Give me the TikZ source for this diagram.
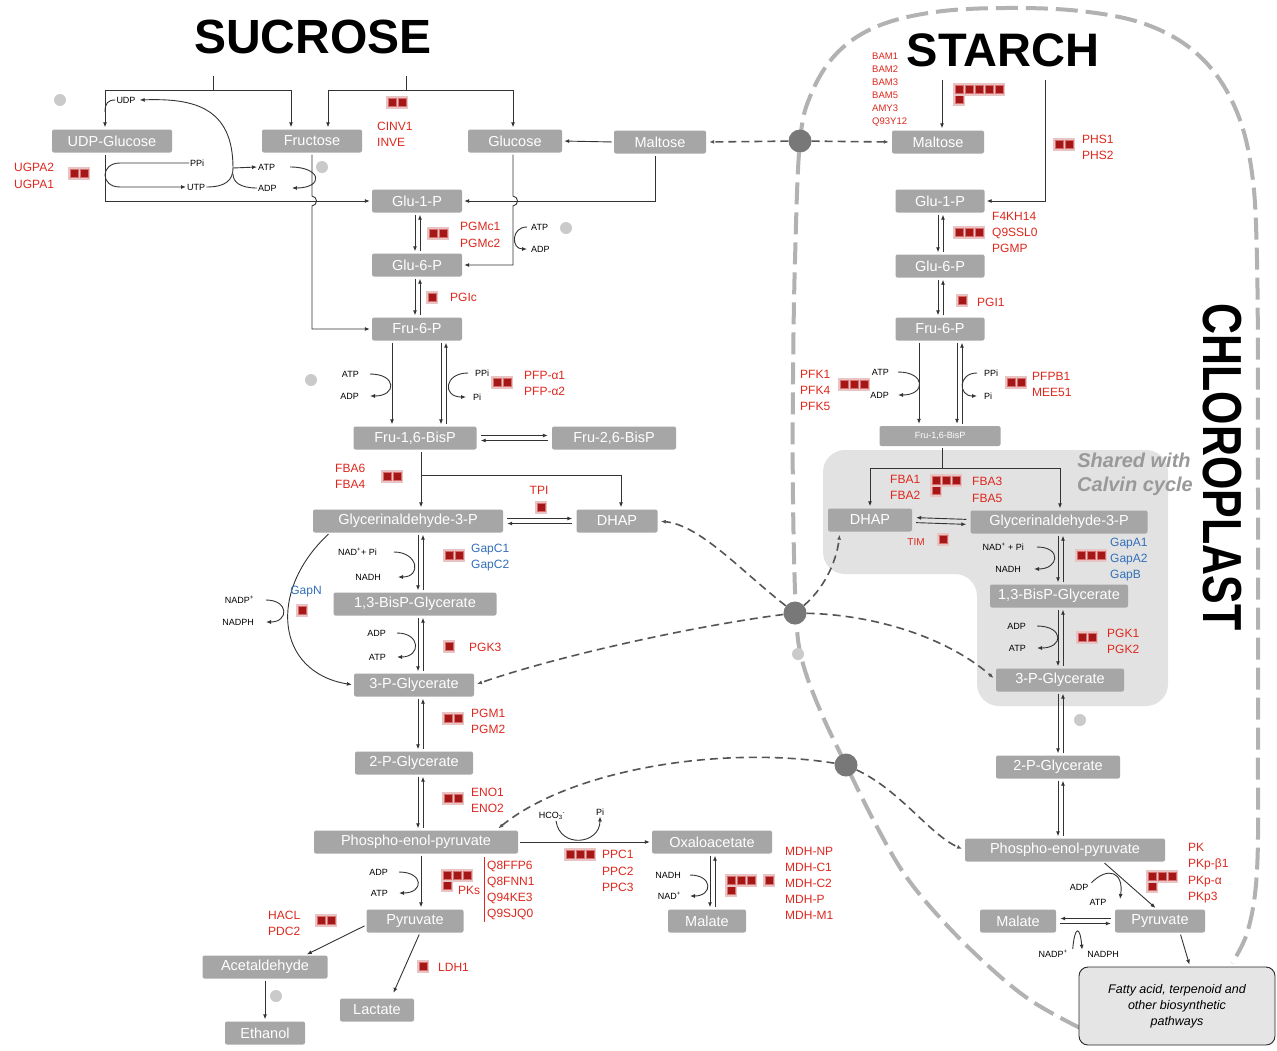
\documentclass[tikz,border=0pt]{standalone}
\usepackage{fontspec}
\setmainfont{Liberation Sans}
\usetikzlibrary{arrows.meta}
\definecolor{boxGray}{RGB}{166,166,166}
\definecolor{enzRed}{RGB}{222,40,30}
\definecolor{enzBlue}{RGB}{50,112,185}
\definecolor{sqRed}{RGB}{165,22,22}
\definecolor{sqEdge}{RGB}{215,110,110}
\definecolor{sqHalo}{RGB}{232,196,196}
\definecolor{memGray}{RGB}{178,178,178}
\definecolor{dashGray}{RGB}{85,85,85}
\definecolor{calvinGray}{RGB}{226,226,226}
\definecolor{dotGray}{RGB}{202,202,202}
\definecolor{portGray}{RGB}{120,120,120}

\newcommand{\enz}[3]{%
  \fill[sqHalo] ({#1-2},{#2-2}) rectangle ({#1+10*#3},{#2+10.5});
  \foreach \k in {1,...,#3}
    \draw[sqEdge,fill=sqRed,line width=0.8pt] ({#1+10*(\k-1)},#2) rectangle +(8.5,8.5);}
\newcommand{\revpair}[4]{%
  \draw[react] (#1.south -| #3) -- (#2.north -| #3);
  \draw[react] (#2.north -| #4) -- (#1.south -| #4);}
\newcommand{\eqR}[2]{%
  \draw[react, shorten <=4pt, shorten >=4pt] ([yshift=2.5pt]#1.east) -- ([yshift=2.5pt]#2.west);
  \draw[react, shorten <=4pt, shorten >=4pt] ([yshift=-2.5pt]#2.west) -- ([yshift=-2.5pt]#1.east);}
\newcommand{\eqL}[2]{%
  \draw[react, shorten <=4pt, shorten >=4pt] ([yshift=2.5pt]#2.west) -- ([yshift=2.5pt]#1.east);
  \draw[react, shorten <=4pt, shorten >=4pt] ([yshift=-2.5pt]#1.east) -- ([yshift=-2.5pt]#2.west);}
\newcommand{\hookR}[4]{\draw[cofarrow] ([xshift=#3pt]#1.east) .. controls +(#4,0) and +(#4,0) .. ([xshift=#3pt]#2.east);}
\newcommand{\hookL}[4]{\draw[cofarrow] ([xshift=-#3pt]#1.west) .. controls +(-#4,0) and +(-#4,0) .. ([xshift=-#3pt]#2.west);}

\begin{document}
\begin{tikzpicture}[x=1pt, y=-1pt,
  >={Latex[length=5pt,width=4pt]},
  box/.style={fill=boxGray, text=white, rounded corners=2pt, minimum height=23pt, inner sep=0pt, font=\fontsize{14.5}{14.5}\selectfont},
  enz/.style={text=enzRed, font=\fontsize{12}{16.3}\selectfont, align=left, anchor=west, inner sep=0pt},
  enzb/.style={enz, text=enzBlue},
  cof/.style={font=\fontsize{9}{9}\selectfont, inner sep=1pt},
  cofL/.style={cof, anchor=east},
  cofR/.style={cof, anchor=west},
  react/.style={->, draw=black!80, line width=0.9pt, shorten >=2pt, shorten <=2pt},
  plainline/.style={draw=black!80, line width=0.9pt},
  cofarrow/.style={->, draw=black!80, line width=0.9pt},
  transit/.style={->, draw=dashGray, line width=1.6pt, dash pattern=on 8pt off 5pt, shorten >=3pt},
  membrane/.style={draw=memGray, line width=4pt, dash pattern=on 22pt off 8pt},
  port/.style={circle, fill=portGray, minimum size=23pt, inner sep=0pt},
  dot/.style={circle, fill=dotGray, minimum size=12pt, inner sep=0pt},
  title/.style={font=\fontsize{48}{48}\selectfont\bfseries, inner sep=0pt},
  calvin/.style={text=black!40, font=\fontsize{20}{20}\selectfont\bfseries\itshape, inner sep=0pt},
  fabox/.style={draw=black!85, fill=black!10, rounded corners=9pt, line width=0.9pt, minimum width=196pt, minimum height=78pt, align=center, font=\fontsize{12.5}{16}\selectfont\itshape}]

\fill[white] (0,0) rectangle (1277,1050);
\useasboundingbox (0,0) rectangle (1277,1050);

\draw[membrane] plot[smooth, tension=0.6] coordinates {(1080,1028) (1030,1000) (985,963) (942,920) (905,875) (876,825) (846,765) (820,710) (802,660) (796,613) (793,500) (793,380) (795,260) (800,141) (812,92) (838,52) (878,26) (935,12) (1005,8) (1080,11) (1145,24) (1195,52) (1230,97) (1250,160) (1257,260) (1258,500) (1258,750) (1257,870) (1248,930) (1232,963)};
\fill[calvinGray, rounded corners=22pt] (823,574) -- (823,450) -- (1168,450) -- (1168,706) -- (977,706) -- (977,574) -- cycle;

\node[title] (tSucrose) at (313,37) {SUCROSE};
\node[title, font=\fontsize{47}{47}\selectfont\bfseries] (tStarch) at (1003,50) {STARCH};
\node[title, rotate=-90, font=\fontsize{55}{55}\selectfont\bfseries] (tChloro) at (1222,467) {\scalebox{0.78}[1]{CHLOROPLAST}};
\node[calvin] (tShared) at (1134,460) {Shared with};
\node[calvin] (tCalvin) at (1135,486) {Calvin cycle};

\node[box, minimum width=120pt] (cUDPG) at (112,141) {UDP-Glucose};
\node[box, minimum width=100pt] (cFru) at (312,141) {Fructose};
\node[box, minimum width=94pt] (cGlc) at (515,141) {Glucose};
\node[box, minimum width=92pt] (cMal) at (660,142) {Maltose};
\node[box, minimum width=90pt] (cG1P) at (417,201) {Glu-1-P};
\node[box, minimum width=90pt] (cG6P) at (417,265) {Glu-6-P};
\node[box, minimum width=90pt] (cF6P) at (417,329) {Fru-6-P};
\node[box, minimum width=123pt] (cFBP) at (415,438) {Fru-1,6-BisP};
\node[box, minimum width=124pt] (cF26) at (614,438) {Fru-2,6-BisP};
\node[box, minimum width=190pt] (cGAP) at (408,521) {Glycerinaldehyde-3-P};
\node[box, minimum width=81pt] (cDHAP) at (617,521) {DHAP};
\node[box, minimum width=163pt] (cBPG) at (415,604) {1,3-BisP-Glycerate};
\node[box, minimum width=120pt] (c3PG) at (414,685) {3-P-Glycerate};
\node[box, minimum width=118pt] (c2PG) at (414,763) {2-P-Glycerate};
\node[box, minimum width=204pt] (cPEP) at (416,842) {Phospho-enol-pyruvate};
\node[box, minimum width=120pt] (cOAA) at (712,842) {Oxaloacetate};
\node[box, minimum width=78pt] (cMalate) at (707,921) {Malate};
\node[box, minimum width=97pt] (cPyr) at (415,921) {Pyruvate};
\node[box, minimum width=125pt] (cAcet) at (265,967) {Acetaldehyde};
\node[box, minimum width=80pt] (cEtOH) at (265,1033) {Ethanol};
\node[box, minimum width=74pt] (cLac) at (377,1010) {Lactate};

\node[box, minimum width=92pt] (pMal) at (938,142) {Maltose};
\node[box, minimum width=89pt] (pG1P) at (940,201) {Glu-1-P};
\node[box, minimum width=89pt] (pG6P) at (940,266) {Glu-6-P};
\node[box, minimum width=89pt] (pF6P) at (940,329) {Fru-6-P};
\node[box, minimum width=121pt, minimum height=20pt, font=\fontsize{9}{9}\selectfont] (pFBP) at (940,436) {Fru-1,6-BisP};
\node[box, minimum width=84pt] (pDHAP) at (870,520) {DHAP};
\node[box, minimum width=177pt] (pGAP) at (1059,522) {Glycerinaldehyde-3-P};
\node[box, minimum width=138pt] (pBPG) at (1059,596) {1,3-BisP-Glycerate};
\node[box, minimum width=128pt] (p3PG) at (1060,680) {3-P-Glycerate};
\node[box, minimum width=124pt] (p2PG) at (1058,767) {2-P-Glycerate};
\node[box, minimum width=200pt] (pPEP) at (1065,850) {Phospho-enol-pyruvate};
\node[box, minimum width=76pt] (pMalate) at (1018,921) {Malate};
\node[box, minimum width=90pt] (pPyr) at (1160,921) {Pyruvate};
\node[fabox] (pFA) at (1177,1006) {Fatty acid, terpenoid and\\other biosynthetic\\pathways};

\coordinate (lA) at (415,0); \coordinate (lB) at (420,0);
\coordinate (lC) at (418,0); \coordinate (lD) at (423,0);
\coordinate (lE) at (441,0); \coordinate (lF) at (446,0);
\coordinate (lK) at (392,0); \coordinate (lG) at (421,0);
\coordinate (mA) at (710,0); \coordinate (mB) at (715,0);
\coordinate (rA) at (938,0); \coordinate (rB) at (943,0);
\coordinate (rC) at (1058,0); \coordinate (rD) at (1063,0);
\coordinate (rE) at (957,0); \coordinate (rF) at (962,0);
\coordinate (rK) at (919,0);

\node[cof] (cUDP) at (126,100) {UDP};
\node[cofR] (cPPi) at (189,163) {PPi};
\node[cofR] (cUTP) at (186,187) {UTP};
\node[cofR] (cATP1) at (257,167) {ATP};
\node[cofR] (cADP1) at (257,188) {ADP};
\node[cofR] (cATP2) at (530,227) {ATP};
\node[cofR] (cADP2) at (530,249) {ADP};
\node[cofL] (cATP3) at (360,374) {ATP};
\node[cofL] (cADP3) at (360,396) {ADP};
\node[cofR] (cPPi2) at (474,373) {PPi};
\node[cofR] (cPi2) at (472,397) {Pi};
\node[cofL] (cNAD) at (378,552) {NAD\textsuperscript{+}+ Pi};
\node[cofL] (cNADH) at (382,577) {NADH};
\node[cofL] (cNADP) at (255,600) {NADP\textsuperscript{+}};
\node[cofL] (cNADPH) at (255,622) {NADPH};
\node[cofL] (cADP4) at (387,633) {ADP};
\node[cofL] (cATP4) at (387,657) {ATP};
\node[cof] (cHCO) at (552,816) {HCO\textsubscript{3}\textsuperscript{-}};
\node[cof] (cPi3) at (600,812) {Pi};
\node[cofL] (cNADH2) at (682,875) {NADH};
\node[cofL] (cNAD2) at (682,896) {NAD\textsuperscript{+}};
\node[cofL] (cADP5) at (389,872) {ADP};
\node[cofL] (cATP5) at (389,893) {ATP};

\node[cofL] (pATP1) at (890,372) {ATP};
\node[cofL] (pADP1) at (890,395) {ADP};
\node[cofR] (pPPi) at (983,373) {PPi};
\node[cofR] (pPi) at (983,396) {Pi};
\node[cofL] (pNAD) at (1025,547) {NAD\textsuperscript{+} + Pi};
\node[cofL] (pNADH) at (1022,569) {NADH};
\node[cofL] (pADP2) at (1027,626) {ADP};
\node[cofL] (pATP2) at (1027,648) {ATP};
\node[cof] (pADP3) at (1079,887) {ADP};
\node[cof] (pATP3) at (1098,902) {ATP};
\node[cof] (pNADP) at (1053,954) {NADP\textsuperscript{+}};
\node[cof] (pNADPH) at (1103,954) {NADPH};
\coordinate (pPKend) at (1120,899);

\coordinate (sucA) at (213,76); \coordinate (sucAj) at (213,90);
\coordinate (sucB) at (406,76); \coordinate (sucBj) at (406,90);
\draw[plainline] (sucA) -- (sucAj);
\draw[react, shorten <=0pt] (sucAj) -| ([xshift=-7pt]cUDPG.north);
\draw[react, shorten <=0pt] (sucAj) -| ([xshift=-21pt]cFru.north);
\draw[plainline] (sucB) -- (sucBj);
\draw[react, shorten <=0pt] (sucBj) -| ([xshift=16pt]cFru.north);
\draw[react, shorten <=0pt] (sucBj) -| ([xshift=-2pt]cGlc.north);
\draw[plainline] (cUDP.west) .. controls (108,100) and (105,103) .. (105,112);

\draw[react] ([xshift=-7pt]cUDPG.south) |- (cG1P.west);
\draw[cofarrow] (cPPi.west) -- (120,163) .. controls (100,163) and (100,187) .. (120,187) -- (cUTP.west);
\coordinate (ndpkJ) at (233,168);
\draw[cofarrow] (cUTP.east) .. controls (226,187) and (233,180) .. (ndpkJ) .. controls (233,108) and (195,98) .. ([xshift=3pt]cUDP.east);
\draw[cofarrow] (ndpkJ) -- (cATP1.west);
\draw[plainline] (cADP1.west) .. controls (240,188) and (233,182) .. (233,174);
\hookR{cATP1}{cADP1}{14}{32}

\draw[react] (cFru.south) -- (312,196) .. controls (318,197) and (318,205) .. (312,206) |- (cF6P.west);
\draw[react] ([xshift=-2pt]cGlc.south) -- (513,196) .. controls (519,197) and (519,205) .. (513,206) |- (cG6P.east);
\hookL{cATP2}{cADP2}{3}{16}
\draw[react] (cMal.west) -- (cGlc.east);
\draw[react] ([xshift=-5pt]cMal.south) |- (cG1P.east);

\revpair{cG1P}{cG6P}{lA}{lB}
\revpair{cG6P}{cF6P}{lA}{lB}
\draw[react] (cF6P.south -| lK) -- (cFBP.north -| lK);
\hookR{cATP3}{cADP3}{10}{27}
\revpair{cF6P}{cFBP}{lE}{lF}
\hookL{cPPi2}{cPi2}{6}{24}
\eqR{cFBP}{cF26}
\coordinate (fbaJ) at (421,475);
\draw[react] (cFBP.south -| lG) -- (cGAP.north -| lG);
\draw[react, shorten <=0pt] (fbaJ) -| ([xshift=4pt]cDHAP.north);
\eqR{cGAP}{cDHAP}
\revpair{cGAP}{cBPG}{lC}{lD}
\hookR{cNAD}{cNADH}{16}{24}
\draw[react] ([xshift=-78pt]cGAP.south) .. controls (268,590) and (275,672) .. (c3PG.west);
\hookR{cNADP}{cNADPH}{11}{23}
\revpair{cBPG}{c3PG}{lC}{lD}
\hookR{cADP4}{cATP4}{10}{24}
\revpair{c3PG}{c2PG}{lC}{lD}
\revpair{c2PG}{cPEP}{lC}{lD}
\draw[react] (cPEP.east) -- (cOAA.west);
\draw[cofarrow] ([xshift=4pt]cHCO.south) .. controls +(4,28) and +(0,28) .. (cPi3.south);
\revpair{cOAA}{cMalate}{mA}{mB}
\hookR{cNADH2}{cNAD2}{8}{23}
\draw[react] (cPEP.south -| lG) -- (cPyr.north -| lG);
\hookR{cADP5}{cATP5}{10}{25}
\draw[react] ([yshift=-4pt]cPyr.west) -- ([xshift=40pt]cAcet.north);
\draw[react, shorten >=6pt] ([xshift=5pt]cPyr.south) -- ([xshift=14pt]cLac.north);
\draw[react] (cAcet.south) -- (cEtOH.north);
\draw[enzRed, line width=1pt] (484,857) -- (484,922);

\coordinate (stA) at (942,80); \coordinate (stB) at (1045,80);
\draw[react, shorten <=0pt] (stA) -- (pMal.north -| stA);
\draw[react, shorten <=0pt] (stB) |- (pG1P.east);
\revpair{pG1P}{pG6P}{rA}{rB}
\revpair{pG6P}{pF6P}{rA}{rB}
\draw[react] (pF6P.south -| rK) -- (pFBP.north -| rK);
\hookR{pATP1}{pADP1}{8}{28}
\revpair{pF6P}{pFBP}{rE}{rF}
\hookL{pPPi}{pPi}{6}{19}
\coordinate (pfbaJ) at (942,468);
\draw[plainline] ([yshift=-2pt]pFBP.south -| pfbaJ) -- (pfbaJ);
\draw[react, shorten <=0pt] (pfbaJ) -| (pDHAP.north);
\draw[react, shorten <=0pt] (pfbaJ) -| ([xshift=1pt]pGAP.north);
\eqL{pDHAP}{pGAP}
\revpair{pGAP}{pBPG}{rC}{rD}
\hookR{pNAD}{pNADH}{12}{25}
\revpair{pBPG}{p3PG}{rC}{rD}
\hookR{pADP2}{pATP2}{10}{27}
\revpair{p3PG}{p2PG}{rC}{rD}
\revpair{p2PG}{pPEP}{rC}{rD}
\draw[react] ([xshift=38pt]pPEP.south) -- ([xshift=-3pt]pPyr.north);
\draw[cofarrow] ([xshift=2pt]pADP3.north east) .. controls (1108,866) and (1124,872) .. (pPKend);
\eqL{pMalate}{pPyr}
\draw[cofarrow] ([xshift=4pt]pNADP.north east) .. controls +(2,-24) and +(-2,-24) .. ([xshift=-4pt]pNADPH.north west);
\draw[react] ([xshift=20pt]pPyr.south) -- ([xshift=13pt]pFA.north);

\node[port] (tMal) at (800,141) {};
\node[port] (tTri) at (795,613) {};
\node[port] (tPEP) at (846,765) {};
\draw[transit] (tMal) -- (cMal.east);
\draw[transit] (tMal) -- (pMal.west);
\draw[transit] (tTri) .. controls (740,570) and (700,525) .. (cDHAP.east);
\draw[transit] (tTri) .. controls (822,590) and (836,565) .. ([xshift=-30pt]pDHAP.south);
\draw[transit] (tTri) .. controls (700,625) and (560,655) .. (c3PG.east);
\draw[transit] (tTri) .. controls (880,615) and (950,640) .. (p3PG.west);
\draw[transit] (tPEP) .. controls (720,745) and (570,770) .. ([xshift=80pt]cPEP.north);
\draw[transit] (tPEP) .. controls (900,790) and (930,835) .. (pPEP.west);

\node[dot] (d1) at (60,100) {};
\node[dot] (d2) at (322,167) {};
\node[dot] (d3) at (566,228) {};
\node[dot] (d4) at (311,380) {};
\node[dot] (d5) at (798,654) {};
\node[dot] (d6) at (1080,720) {};
\node[dot] (d7) at (276,996) {};

\node[enz] (eUGPA) at (14,176) {UGPA2\\UGPA1};
\node[enz] (eCINV) at (377,134) {CINV1\\INVE};
\node[enz] (ePGMc) at (460,235) {PGMc1\\PGMc2};
\node[enz] (ePGIc) at (450,297) {PGIc};
\node[enz] (ePFP) at (524,383.5) {PFP-α1\\PFP-α2};
\node[enz] (eFBA6) at (335,476.5) {FBA6\\FBA4};
\node[enz, anchor=center] (eTPI) at (539,490) {TPI};
\node[enzb] (eGapC) at (471,557.5) {GapC1\\GapC2};
\node[enzb, anchor=center] (eGapN) at (306,592) {GapN};
\node[enz] (ePGK3) at (469,647) {PGK3};
\node[enz] (ePGM) at (471,721.5) {PGM1\\PGM2};
\node[enz] (eENO) at (471,800.5) {ENO1\\ENO2};
\node[enz] (ePPC) at (602,871) {PPC1\\PPC2\\PPC3};
\node[enz, font=\fontsize{12}{16}\selectfont] (eMDH) at (785,883.5) {MDH-NP\\MDH-C1\\MDH-C2\\MDH-P\\MDH-M1};
\node[enz] (ePKs) at (458,890) {PKs};
\node[enz, font=\fontsize{12}{16}\selectfont] (eQ8) at (487,890) {Q8FFP6\\Q8FNN1\\Q94KE3\\Q9SJQ0};
\node[enz] (eHACL) at (268,923.5) {HACL\\PDC2};
\node[enz] (eLDH) at (438,967) {LDH1};

\node[enz, font=\fontsize{9.5}{13}\selectfont] (eBAM) at (872,89.5) {BAM1\\BAM2\\BAM3\\BAM5\\AMY3\\Q93Y12};
\node[enz] (ePHS) at (1082,147.5) {PHS1\\PHS2};
\node[enz] (ePGMP) at (992,232.5) {F4KH14\\Q9SSL0\\PGMP};
\node[enz] (ePGI1) at (977,302) {PGI1};
\node[enz] (ePFK) at (800,390.5) {PFK1\\PFK4\\PFK5};
\node[enz] (ePFPB) at (1032,384.5) {PFPB1\\MEE51};
\node[enz] (eFBA1) at (890,487.5) {FBA1\\FBA2};
\node[enz] (eFBA3) at (972,490) {FBA3\\FBA5};
\node[enz, anchor=center, font=\fontsize{10}{10}\selectfont] (eTIM) at (916,542) {TIM};
\node[enzb] (eGapA) at (1110,559.5) {GapA1\\GapA2\\GapB};
\node[enz] (ePGK) at (1107,641.5) {PGK1\\PGK2};
\node[enz] (ePKp) at (1188,873) {PK\\PKp-β1\\PKp-α\\PKp3};

\enz{70}{169}{2}
\enz{388}{98}{2}
\enz{429}{229}{2}
\enz{428}{293}{1}
\enz{493}{378}{2}
\enz{383}{472}{2}
\enz{537}{503}{1}
\enz{445}{551}{2}
\enz{298}{606}{1}
\enz{445}{642}{1}
\enz{444}{714}{2}
\enz{444}{794}{2}
\enz{443}{881}{1}
\enz{443}{871}{3}
\enz{566}{850}{3}
\enz{727}{886}{1}
\enz{727}{876}{3}
\enz{765}{876}{1}
\enz{317}{916}{2}
\enz{419}{962}{1}
\enz{955}{95}{1}
\enz{955}{85}{5}
\enz{1055}{140}{2}
\enz{955}{228}{3}
\enz{958}{296}{1}
\enz{840}{380}{3}
\enz{1007}{378}{2}
\enz{932}{486}{1}
\enz{932}{476}{3}
\enz{939}{535}{1}
\enz{1077}{551}{3}
\enz{1078}{633}{2}
\enz{1148}{882}{1}
\enz{1148}{872}{3}
\end{tikzpicture}
\end{document}
